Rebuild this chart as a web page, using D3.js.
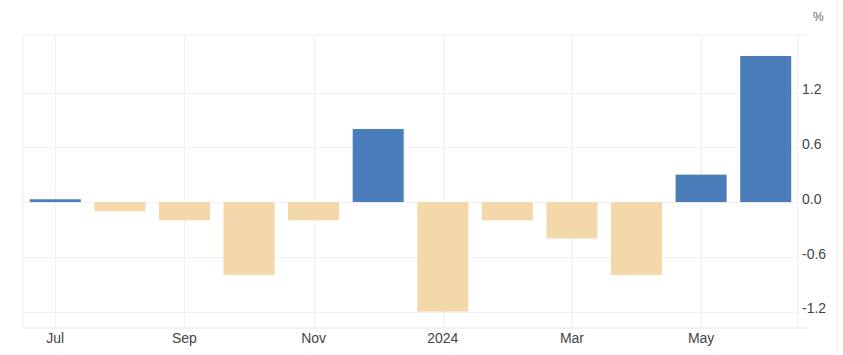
<!DOCTYPE html>
<html>
<head>
<meta charset="utf-8">
<script src="https://cdn.jsdelivr.net/npm/d3@7"></script>
<style>
  html, body { margin: 0; padding: 0; background: #fff; }
  svg { display: block; }
  text { font-family: "Liberation Sans", Arial, sans-serif; }
</style>
</head>
<body>
<svg id="chart" width="843" height="355"></svg>
<script>
const months = ["Jul","Aug","Sep","Oct","Nov","Dec","Jan","Feb","Mar","Apr","May","Jun"];
const values = [0.03, -0.1, -0.2, -0.8, -0.2, 0.8, -1.2, -0.2, -0.4, -0.8, 0.3, 1.6];
const xTickLabels = {"Jul":"Jul","Sep":"Sep","Nov":"Nov","Jan":"2024","Mar":"Mar","May":"May"};
const yTicks = [-1.2, -0.6, 0, 0.6, 1.2];
const unitLabel = "%";

const svg = d3.select("#chart");
const W = 843, H = 355;
const m = {left: 23, right: 798, top: 35, bottom: 328};

const x = d3.scaleBand().domain(months).range([m.left, m.right]).paddingInner(0.21).paddingOuter(0.105);
const y = d3.scaleLinear().domain([-1.38, 1.83]).range([m.bottom, m.top]);

const grid = svg.append("g");
// frame
grid.append("line").attr("x1", m.left).attr("x2", 808).attr("y1", m.top).attr("y2", m.top)
  .attr("stroke", "#ececec");
grid.append("line").attr("x1", m.left).attr("x2", 808).attr("y1", m.bottom).attr("y2", m.bottom)
  .attr("stroke", "#e6e6e6");
grid.append("line").attr("x1", m.left).attr("x2", m.left).attr("y1", m.top).attr("y2", m.bottom)
  .attr("stroke", "#ececec");
grid.append("line").attr("x1", m.right).attr("x2", m.right).attr("y1", m.top).attr("y2", m.bottom)
  .attr("stroke", "#ececec");
grid.append("line").attr("x1", 837.5).attr("x2", 837.5).attr("y1", 0).attr("y2", H)
  .attr("stroke", "#f0f0f0");

// horizontal grid
grid.selectAll(".hg").data(yTicks).enter().append("line")
  .attr("x1", m.left).attr("x2", m.right)
  .attr("y1", d => Math.round(y(d)) + 0.5).attr("y2", d => Math.round(y(d)) + 0.5)
  .attr("stroke", "#f0f0f0");

// vertical grid
const tickMonths = months.filter(mm => xTickLabels[mm]);
grid.selectAll(".vg").data(tickMonths).enter().append("line")
  .attr("x1", d => Math.round(x(d) + x.bandwidth()/2) + 0.5)
  .attr("x2", d => Math.round(x(d) + x.bandwidth()/2) + 0.5)
  .attr("y1", m.top).attr("y2", m.bottom)
  .attr("stroke", "#f0f0f0");

// bars
svg.append("g").selectAll("rect").data(months).enter().append("rect")
  .attr("x", d => x(d))
  .attr("width", x.bandwidth())
  .attr("y", (d, i) => y(Math.max(0, values[i])))
  .attr("height", (d, i) => Math.abs(y(values[i]) - y(0)))
  .attr("fill", (d, i) => values[i] >= 0 ? "#4a7dba" : "#f3d9aa");

// y axis labels
svg.append("g").selectAll("text").data(yTicks).enter().append("text")
  .attr("x", 802).attr("y", d => y(d) - 3).attr("dy", "0.35em")
  .attr("font-size", 14).attr("fill", "#444")
  .text(d => d3.format(".1f")(d).replace("−", "-"));

svg.append("text").attr("x", 813).attr("y", 17).attr("dy", "0.35em")
  .attr("font-size", 12).attr("fill", "#666").text(unitLabel);

// x axis labels
svg.append("g").selectAll("text").data(tickMonths).enter().append("text")
  .attr("x", d => x(d) + x.bandwidth()/2).attr("y", 338).attr("dy", "0.35em")
  .attr("text-anchor", "middle")
  .attr("font-size", 14).attr("fill", "#444")
  .text(d => xTickLabels[d]);
</script>
</body>
</html>
